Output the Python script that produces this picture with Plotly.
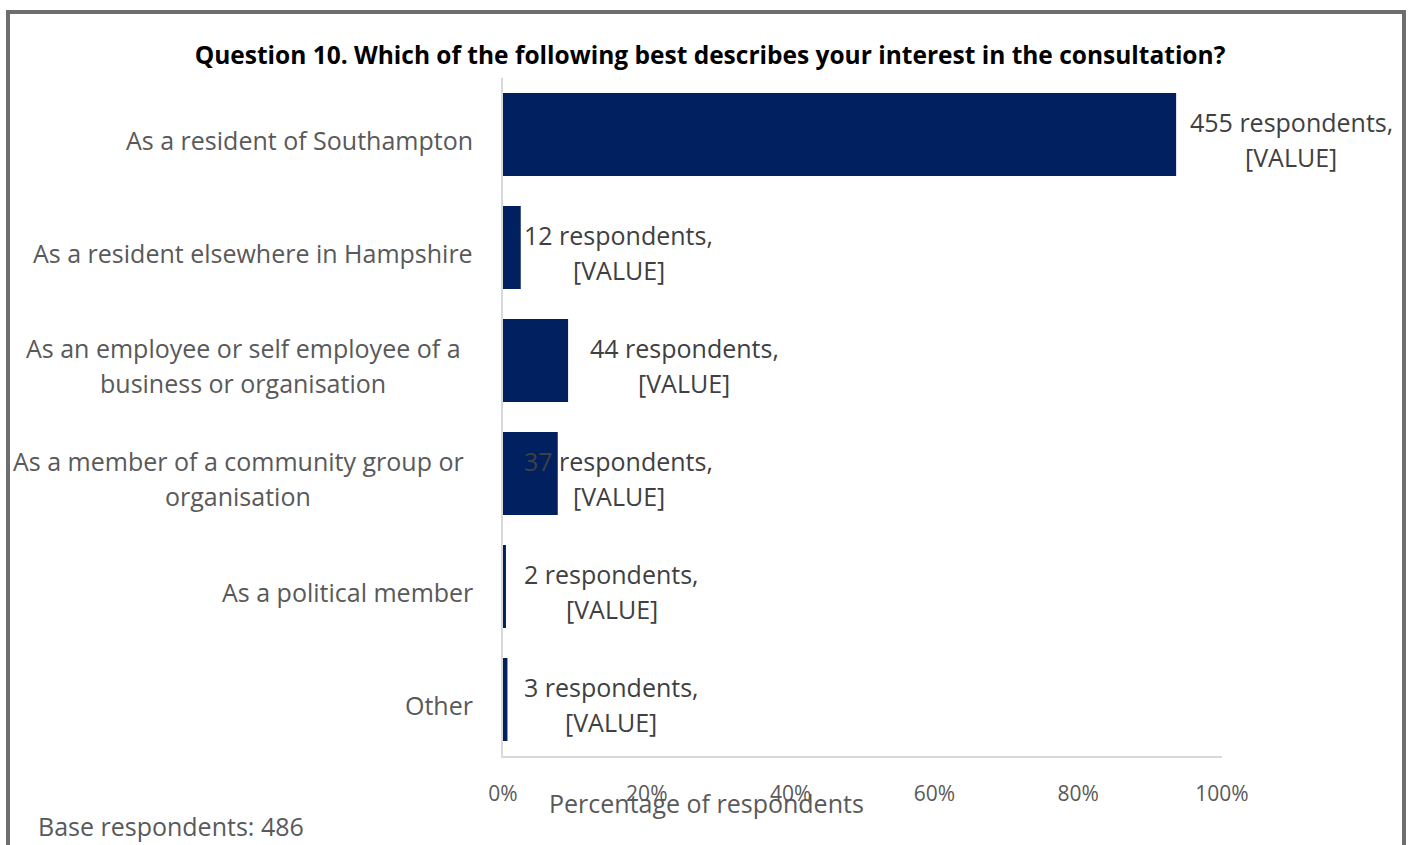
import plotly.graph_objects as go

# Survey responses for Question 10
categories = [
    "As a resident of Southampton",
    "As a resident elsewhere in Hampshire",
    "As an employee or self employee of a business or organisation",
    "As a member of a community group or organisation",
    "As a political member",
    "Other",
]
# wrapped form of each category label (one entry per drawn line)
category_lines = [
    ["As a resident of Southampton"],
    ["As a resident elsewhere in Hampshire"],
    ["As an employee or self employee of a", "business or organisation"],
    ["As a member of a community group or", "organisation"],
    ["As a political member"],
    ["Other"],
]
respondents = [455, 12, 44, 37, 2, 3]
base_respondents = 486
tick_values = [0, 0.2, 0.4, 0.6, 0.8, 1.0]
tick_labels = ["0%", "20%", "40%", "60%", "80%", "100%"]

shares = [n / base_respondents for n in respondents]

FONT = "Open Sans"
LABEL_SIZE = 25
BAR = "#002060"
GREY = "#595959"
DARK = "#404040"

# pixel geometry of the plotting area
PLOT_L, PLOT_R, PLOT_T, PLOT_B = 503, 1222, 78, 756
PW, PH = PLOT_R - PLOT_L, PLOT_B - PLOT_T

def px_x(px):
    return (px - PLOT_L) / PW

def px_y(py):
    return (PLOT_B - py) / PH

# horizontal nudges (px) for each data label centre, relative to its bar end
label_shift = [115, 98, 116, 61, 106, 104]
# vertical offsets (px, downward) of the two text lines from the bar centre
LINE_OFFSETS = [-13, 22]
# centres (px) of wrapped category labels
wrapped_centre = {2: 243, 3: 238}

fig = go.Figure(
    go.Bar(
        x=shares,
        y=categories,
        orientation="h",
        marker=dict(color=BAR, line=dict(width=0)),
        hoverinfo="skip",
    )
)

annotations = []
# data labels: "<n> respondents, [VALUE]"
for cat, share, n, dx in zip(categories, shares, respondents, label_shift):
    for text, dy in zip([f"{n} respondents,", "[VALUE]"], LINE_OFFSETS):
        annotations.append(dict(
            x=share, y=cat, xref="x", yref="y",
            text=text, showarrow=False, xanchor="center", yanchor="middle",
            xshift=dx, yshift=-dy,
            font=dict(family=FONT, size=LABEL_SIZE, color=DARK),
        ))

# category labels to the left of the axis
for i, (cat, lines) in enumerate(zip(categories, category_lines)):
    if len(lines) == 1:
        annotations.append(dict(
            x=0, y=cat, xref="paper", yref="y",
            text=lines[0], showarrow=False, xanchor="right", yanchor="middle",
            xshift=-28, yshift=-5,
            font=dict(family=FONT, size=LABEL_SIZE, color=GREY),
        ))
    else:
        for text, dy in zip(lines, LINE_OFFSETS):
            annotations.append(dict(
                x=px_x(wrapped_centre[i]), y=cat, xref="paper", yref="y",
                text=text, showarrow=False, xanchor="center", yanchor="middle",
                yshift=-dy,
                font=dict(family=FONT, size=LABEL_SIZE, color=GREY),
            ))

# axis title and footnote
annotations.append(dict(
    x=px_x(706), y=px_y(803), xref="paper", yref="paper",
    text="Percentage of respondents", showarrow=False,
    xanchor="center", yanchor="middle",
    font=dict(family=FONT, size=LABEL_SIZE, color=GREY),
))
annotations.append(dict(
    x=px_x(36), y=px_y(826), xref="paper", yref="paper",
    text=f"Base respondents: {base_respondents}", showarrow=False,
    xanchor="left", yanchor="middle",
    font=dict(family=FONT, size=LABEL_SIZE, color=GREY),
))

# outer frame around the whole chart
frame = dict(
    type="rect", xref="paper", yref="paper", layer="above",
    x0=px_x(8), x1=px_x(1404), y0=px_y(900), y1=px_y(12),
    line=dict(color="#6e6e6e", width=4), fillcolor="rgba(0,0,0,0)",
)

fig.update_layout(
    width=1408, height=845,
    margin=dict(l=PLOT_L, r=1408 - PLOT_R, t=PLOT_T, b=845 - PLOT_B),
    paper_bgcolor="white", plot_bgcolor="white",
    bargap=0.265,
    showlegend=False,
    title=dict(
        text="<b>Question 10. Which of the following best describes your interest in the consultation?</b>",
        x=710 / 1408, xanchor="center", xref="container",
        y=1 - 55 / 845, yanchor="middle", yref="container",
        font=dict(family=FONT, size=24.5, color="black"),
    ),
    xaxis=dict(
        range=[0, 1], tickvals=tick_values, ticktext=tick_labels,
        showgrid=False, zeroline=False,
        showline=True, linecolor="#d9d9d9", linewidth=2,
        ticks="", ticklabelstandoff=18,
        tickfont=dict(family=FONT, size=21, color=GREY),
        fixedrange=True,
    ),
    yaxis=dict(
        categoryorder="array", categoryarray=categories,
        autorange="reversed",
        showticklabels=False, showgrid=False, zeroline=False,
        showline=True, linecolor="#d9d9d9", linewidth=2, ticks="",
        fixedrange=True,
    ),
    annotations=annotations,
    shapes=[frame],
)

fig.write_html("out.html")
